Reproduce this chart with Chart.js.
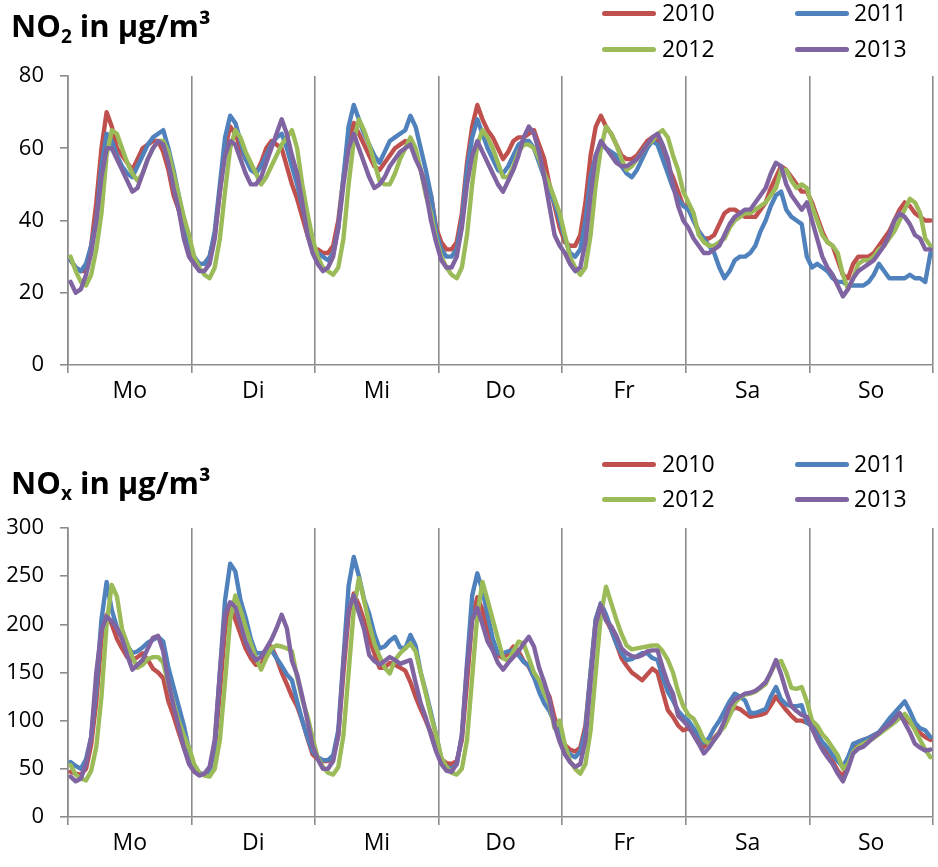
<!DOCTYPE html>
<html>
<head>
<meta charset="utf-8">
<script src="https://cdn.jsdelivr.net/npm/chart.js@4.4.1/dist/chart.umd.min.js"></script>
<style>
  html, body { margin: 0; padding: 0; background: #fff; }
  body { width: 938px; height: 867px; position: relative; overflow: hidden; font-family: "Open Sans", "Liberation Sans", sans-serif; }
  .panel { position: absolute; left: 0; width: 938px; }
  canvas { display: block; }
  .title { position: absolute; left: 11px; font-weight: bold; font-size: 31px; line-height: 30px; white-space: nowrap; color: #000; }
  .title sub { font-size: 19px; vertical-align: -6px; line-height: 0; }
  .lg-line { position: absolute; width: 54px; height: 5px; border-radius: 3px; }
  .lg-text { position: absolute; font-size: 23px; line-height: 26px; color: #000; }
</style>
</head>
<body>
<div class="panel" style="top:0;height:430px"><canvas id="no2" width="938" height="430"></canvas></div>
<div class="panel" style="top:440px;height:427px"><canvas id="nox" width="938" height="427"></canvas></div>
<div class="title" style="top:10px">NO<sub>2</sub> in µg/m³</div>
<div class="title" style="top:467px">NO<sub>x</sub> in µg/m³</div>
<div id="legends"></div>

<script>
// Weekday labels and year series
const days = ['Mo', 'Di', 'Mi', 'Do', 'Fr', 'Sa', 'So'];
const years = ['2010', '2011', '2012', '2013'];
const colors = ['#C0504D', '#4F81BD', '#9BBB59', '#8064A2'];

// Mean weekly cycle of NO2 (µg/m³), hourly values Mo 0h ... So 23h
const no2_2010 = [
  29, 27, 26, 26, 33, 45, 60, 70, 66, 60, 58, 56, 54, 57, 60, 61, 62, 62, 59, 54, 47, 43, 37, 32,
  29, 28, 28, 30, 36, 48, 60, 66, 64, 60, 57, 55, 53, 56, 60, 62, 61, 60, 55, 50, 46, 41, 36, 32,
  32, 31, 31, 33, 40, 52, 62, 67, 64, 61, 58, 55, 54, 56, 58, 60, 61, 62, 61, 58, 54, 50, 47, 38,
  34, 32, 32, 34, 42, 56, 66, 72, 68, 65, 63, 60, 57, 59, 62, 63, 63, 64, 65, 61, 57, 50, 44, 38,
  34, 33, 33, 36, 45, 58, 66, 69, 66, 64, 61, 58, 57, 57, 58, 60, 62, 63, 62, 58, 55, 52, 48, 44,
  44, 40, 37, 35, 35, 36, 39, 42, 43, 43, 42, 41, 41, 41, 43, 45, 49, 52, 55, 54, 52, 50, 48, 48,
  45, 41, 37, 34, 33, 29, 25, 24, 28, 30, 30, 30, 31, 33, 35, 37, 40, 43, 45, 44, 42, 41, 40, 40
];
const no2_2011 = [
  29, 27, 26, 28, 33, 40, 55, 64, 62, 58, 55, 53, 52, 55, 58, 61, 63, 64, 65, 60, 54, 47, 40, 34,
  30, 28, 28, 30, 37, 50, 63, 69, 67, 62, 57, 54, 53, 55, 58, 61, 63, 64, 60, 55, 50, 44, 38, 33,
  31, 30, 29, 31, 38, 52, 66, 72, 68, 64, 61, 58, 56, 59, 62, 63, 64, 65, 69, 66, 60, 54, 47, 37,
  32, 30, 30, 32, 40, 54, 63, 68, 64, 60, 57, 54, 53, 55, 58, 61, 62, 62, 60, 56, 52, 48, 45, 40,
  35, 31, 30, 32, 40, 52, 58, 61, 60, 59, 58, 55, 53, 52, 54, 57, 60, 62, 61, 57, 53, 49, 46, 44,
  43, 40, 37, 35, 33, 31, 27, 24, 26, 29, 30, 30, 31, 33, 37, 40, 44, 47, 48, 43, 41, 40, 39, 30,
  27, 28, 27, 26, 24, 23, 23, 22, 22, 22, 22, 23, 25, 28, 26, 24, 24, 24, 24, 25, 24, 24, 23, 31
];
const no2_2012 = [
  30, 26, 23, 22, 25, 32, 42, 58, 65, 64, 60, 56, 53, 51, 53, 57, 60, 62, 62, 59, 53, 47, 41, 36,
  30, 27, 25, 24, 27, 35, 48, 60, 65, 63, 59, 56, 53, 50, 52, 55, 58, 61, 63, 65, 60, 50, 42, 35,
  30, 27, 26, 25, 27, 35, 50, 62, 68, 65, 61, 56, 51, 50, 50, 53, 57, 60, 63, 60, 54, 47, 42, 35,
  30, 27, 25, 24, 27, 36, 50, 61, 65, 63, 60, 56, 52, 52, 55, 59, 61, 61, 60, 57, 53, 50, 46, 42,
  36, 30, 27, 25, 27, 36, 50, 60, 66, 64, 61, 57, 54, 55, 57, 59, 61, 62, 64, 65, 63, 58, 54, 48,
  45, 42, 36, 34, 33, 33, 34, 35, 38, 40, 41, 42, 42, 43, 44, 45, 47, 49, 54, 54, 51, 49, 50, 49,
  44, 40, 36, 34, 33, 31, 25, 21, 24, 28, 29, 29, 30, 32, 33, 35, 37, 40, 43, 46, 45, 42, 35, 33
];
const no2_2013 = [
  23, 20, 21, 25, 31, 40, 52, 60, 60, 57, 54, 51, 48, 49, 53, 57, 60, 62, 61, 56, 49, 43, 35, 30,
  28, 26, 26, 28, 35, 48, 58, 62, 61, 57, 53, 50, 50, 52, 56, 60, 64, 68, 64, 58, 53, 45, 36, 31,
  28, 26, 27, 30, 38, 50, 60, 64, 60, 56, 52, 49, 50, 52, 55, 57, 59, 60, 61, 57, 54, 48, 40, 34,
  29, 27, 27, 30, 38, 50, 58, 62, 59, 56, 53, 50, 48, 51, 54, 58, 63, 66, 64, 59, 52, 44, 36, 33,
  31, 28, 26, 27, 34, 47, 58, 62, 60, 58, 56, 55, 55, 56, 57, 59, 61, 63, 64, 61, 57, 50, 44, 40,
  38, 35, 33, 31, 31, 32, 33, 36, 39, 41, 42, 43, 43, 45, 47, 49, 53, 56, 55, 50, 47, 45, 43, 45,
  40, 35, 30, 27, 25, 22, 19, 21, 24, 26, 27, 28, 29, 31, 33, 36, 40, 42, 41, 39, 36, 35, 32, 32
];

// Mean weekly cycle of NOx (µg/m³), hourly values Mo 0h ... So 23h
const nox_2010 = [
  47, 45, 44, 50, 75, 120, 185, 210, 200, 185, 175, 166, 163, 166, 170, 163, 154, 150, 144, 120, 105, 88, 72, 58,
  50, 45, 44, 48, 70, 130, 195, 218, 205, 190, 175, 165, 158, 158, 170, 177, 165, 150, 138, 125, 115, 100, 82, 65,
  60, 58, 58, 62, 85, 150, 210, 232, 220, 204, 185, 170, 155, 155, 160, 158, 155, 152, 140, 125, 112, 100, 87, 70,
  60, 56, 55, 58, 80, 140, 205, 228, 215, 195, 180, 168, 165, 170, 177, 172, 162, 156, 145, 138, 135, 125, 103, 88,
  75, 70, 68, 72, 95, 150, 205, 222, 205, 194, 180, 165, 157, 150, 146, 142, 148, 154, 150, 130, 111, 104, 95, 90,
  92, 88, 80, 73, 78, 82, 88, 98, 108, 114, 112, 108, 104, 105, 106, 108, 116, 125, 118, 111, 105, 100, 100, 98,
  96, 88, 76, 68, 58, 48, 42, 55, 70, 78, 80, 82, 85, 87, 92, 99, 103, 107, 104, 98, 92, 87, 83, 80
];
const nox_2011 = [
  57, 53, 50, 60, 83, 135, 205, 244, 215, 197, 187, 178, 170, 172, 176, 181, 184, 187, 182, 155, 135, 115, 95, 70,
  52, 46, 44, 48, 75, 150, 225, 263, 255, 225, 207, 185, 170, 170, 171, 173, 165, 157, 148, 142, 120, 100, 83, 68,
  62, 59, 59, 64, 90, 165, 240, 270, 250, 226, 211, 190, 175, 177, 183, 187, 176, 175, 189, 178, 150, 130, 108, 85,
  60, 52, 50, 55, 85, 160, 230, 253, 235, 210, 185, 170, 170, 172, 173, 168, 161, 157, 145, 130, 118, 110, 98, 85,
  72, 65, 62, 68, 90, 150, 205, 222, 210, 195, 180, 170, 163, 164, 167, 170, 170, 165, 163, 145, 130, 121, 110, 104,
  100, 92, 85, 77, 82, 92, 100, 110, 120, 128, 125, 121, 108, 108, 110, 112, 125, 135, 122, 117, 115, 115, 116, 98,
  94, 85, 78, 72, 64, 58, 52, 62, 76, 78, 80, 82, 85, 88, 95, 102, 108, 114, 120, 110, 98, 92, 90, 83
];
const nox_2012 = [
  54, 44, 40, 38, 48, 73, 125, 200, 241, 229, 195, 180, 166, 155, 158, 164, 166, 166, 160, 138, 118, 100, 85, 72,
  55, 46, 43, 42, 50, 80, 140, 205, 230, 215, 197, 180, 165, 153, 165, 175, 178, 177, 175, 172, 145, 122, 105, 82,
  62, 52, 46, 44, 52, 85, 150, 215, 248, 225, 200, 180, 167, 155, 149, 163, 170, 175, 180, 172, 150, 128, 105, 85,
  62, 52, 46, 44, 50, 80, 145, 210, 244, 225, 205, 185, 165, 162, 172, 182, 180, 165, 150, 142, 128, 118, 92, 100,
  75, 58, 50, 45, 55, 90, 150, 210, 239, 222, 205, 190, 178, 174, 175, 176, 177, 178, 178, 172, 163, 150, 130, 115,
  106, 102, 92, 80, 76, 80, 88, 94, 105, 118, 124, 127, 128, 130, 134, 138, 150, 160, 162, 150, 134, 133, 135, 120,
  100, 95, 86, 80, 72, 64, 50, 55, 68, 73, 76, 79, 82, 86, 90, 94, 98, 103, 107, 100, 90, 80, 70, 62
];
const nox_2013 = [
  42, 37, 40, 55, 83, 150, 194, 208, 203, 196, 185, 168, 153, 158, 163, 175, 186, 188, 172, 140, 115, 94, 72, 55,
  47, 43, 45, 52, 80, 150, 210, 223, 218, 200, 182, 170, 163, 166, 175, 184, 196, 210, 196, 162, 148, 125, 100, 74,
  60, 50, 50, 58, 85, 160, 215, 230, 212, 195, 168, 162, 158, 162, 166, 163, 159, 161, 163, 140, 118, 103, 85, 68,
  55, 48, 47, 55, 85, 155, 205, 217, 200, 182, 173, 160, 153, 160, 166, 172, 180, 187, 177, 155, 140, 122, 95, 78,
  65, 57, 52, 55, 80, 140, 200, 220, 204, 198, 188, 175, 170, 167, 166, 168, 172, 173, 173, 155, 139, 128, 105, 100,
  94, 85, 76, 66, 72, 80, 87, 100, 115, 122, 125, 128, 129, 131, 135, 140, 150, 163, 148, 130, 115, 110, 106, 104,
  92, 80, 70, 62, 55, 45, 37, 50, 66, 71, 73, 78, 83, 87, 92, 96, 101, 108, 98, 88, 76, 72, 69, 70
];

// Hour index of the week (0 = Monday 0h)
const hours = no2_2010.map((_, i) => i);

const AXIS = '#8c8c8c';
const FONT = '"Open Sans", "Liberation Sans", sans-serif';

// Ticks at day boundaries (grid lines) and day centres (labels)
function dayTicks() {
  const t = [];
  for (let k = 0; k <= 7; k++) {
    t.push({ value: 24 * k - 0.5 });
    if (k < 7) t.push({ value: 24 * k + 11.5 });
  }
  return t;
}
const isBoundary = v => Math.abs((v + 0.5) % 24) < 1e-6;

function build(id, series, yMax, yStep, padTop, xAxisH) {
  return new Chart(document.getElementById(id), {
    type: 'line',
    data: {
      labels: hours,
      datasets: series.map((d, i) => ({
        label: years[i],
        data: d,
        borderColor: colors[i],
        backgroundColor: colors[i],
        borderWidth: 4.4,
        pointRadius: 0,
        tension: 0,
        fill: false,
        order: 3 - i,
        borderJoinStyle: 'round',
        borderCapStyle: 'round'
      }))
    },
    options: {
      responsive: false,
      animation: false,
      devicePixelRatio: 1,
      layout: { padding: { top: padTop, right: 4, left: 0, bottom: 0 } },
      plugins: { legend: { display: false }, tooltip: { enabled: false } },
      scales: {
        x: {
          type: 'linear',
          min: -0.5,
          max: 167.5,
          afterBuildTicks: s => { s.ticks = dayTicks(); },
          afterFit: s => { s.height = xAxisH; },
          ticks: {
            autoSkip: false, maxRotation: 0, minRotation: 0, padding: 5,
            color: '#000', font: { family: FONT, size: 23 },
            callback: v => isBoundary(v) ? '' : days[Math.round((v - 11.5) / 24)]
          },
          grid: {
            drawOnChartArea: true, drawTicks: true, tickLength: 8, lineWidth: 1.6,
            color: c => (c.tick && isBoundary(c.tick.value)) ? AXIS : 'rgba(0,0,0,0)',
            tickColor: c => (c.tick && isBoundary(c.tick.value)) ? AXIS : 'rgba(0,0,0,0)'
          },
          border: { display: true, color: AXIS, width: 1.6 }
        },
        y: {
          min: 0,
          max: yMax,
          afterFit: s => { s.width = 68; },
          ticks: { stepSize: yStep, padding: 16, color: '#000', font: { family: FONT, size: 22 } },
          grid: { drawOnChartArea: false, drawTicks: true, tickLength: 8, color: AXIS, lineWidth: 1.6 },
          border: { display: true, color: AXIS, width: 1.6 }
        }
      }
    }
  });
}

build('no2', [no2_2010, no2_2011, no2_2012, no2_2013], 80, 20, 76, 65);
build('nox', [nox_2010, nox_2011, nox_2012, nox_2013], 300, 50, 88, 50);

// Two-column legends beside each title
function legend(rowCentres) {
  const host = document.getElementById('legends');
  const cols = [{ line: 602, text: 662 }, { line: 795, text: 854 }];
  years.forEach((y, i) => {
    const row = Math.floor(i / 2), col = cols[i % 2];
    const cy = rowCentres[row];
    const ln = document.createElement('div');
    ln.className = 'lg-line';
    ln.style.left = col.line + 'px';
    ln.style.top = (cy - 2.5) + 'px';
    ln.style.background = colors[i];
    const tx = document.createElement('div');
    tx.className = 'lg-text';
    tx.style.left = col.text + 'px';
    tx.style.top = (cy - 14) + 'px';
    tx.textContent = y;
    host.appendChild(ln);
    host.appendChild(tx);
  });
}
legend([13, 49]);
legend([464, 499]);
</script>
</body>
</html>
